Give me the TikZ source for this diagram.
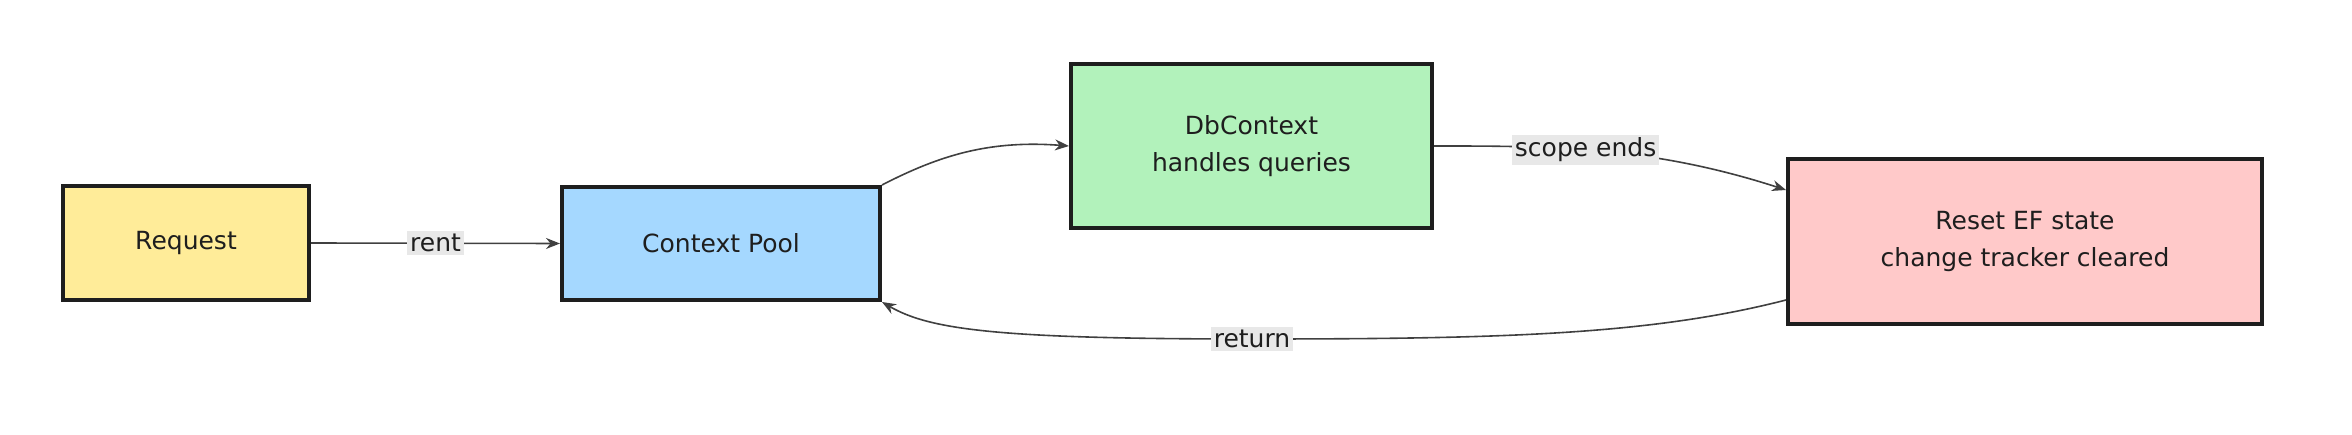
\documentclass[tikz,border=0pt]{standalone}
\usepackage{fontspec}
\setmainfont{DejaVu Sans}
\usetikzlibrary{arrows.meta}
\definecolor{ink}{HTML}{1E1E1E}
\definecolor{cy}{HTML}{FFEC99}
\definecolor{cb}{HTML}{A5D8FF}
\definecolor{cg}{HTML}{B2F2BB}
\definecolor{cr}{HTML}{FFC9C9}
\begin{document}
\begin{tikzpicture}[x=1pt,y=-1pt,
  box/.style={draw=ink,line width=4pt,align=center,font=\fontsize{25}{37}\selectfont,text=ink,inner sep=0pt},
  edge/.style={draw=ink!85,line width=1.6pt,-{Stealth[length=14pt,width=11pt]}},
  lab/.style={fill=black!9,font=\fontsize{25}{30}\selectfont,text=ink,inner sep=3pt}]
\useasboundingbox (0,0) rectangle (2352,435);
\node[box,fill=cy,minimum width=246pt,minimum height=114pt] (req) at (186,243) {Request};
\node[box,fill=cb,minimum width=318pt,minimum height=113pt] (pool) at (721,243.5) {Context Pool};
\node[box,fill=cg,minimum width=361pt,minimum height=164pt] (db) at (1251.5,146) {DbContext\\handles queries};
\node[box,fill=cr,minimum width=474pt,minimum height=165pt] (reset) at (2025,241.5) {Reset EF state\\change tracker cleared};
\draw[edge] (req.east) -- node[lab] {rent} (pool.west);
\draw[edge] (pool.north east) .. controls (940,155) and (990,140) .. (db.west);
\draw[edge] (db.east) .. controls (1550,146) and (1650,146) .. node[lab,pos=0.45] {scope ends} (reset.north west|-0,190);
\draw[edge] (reset.west|-0,300) .. controls (1650,335) and (1500,339) .. (1252,339) node[lab] {return} .. controls (1000,339) and (930,330) .. (pool.south east);
\end{tikzpicture}
\end{document}
